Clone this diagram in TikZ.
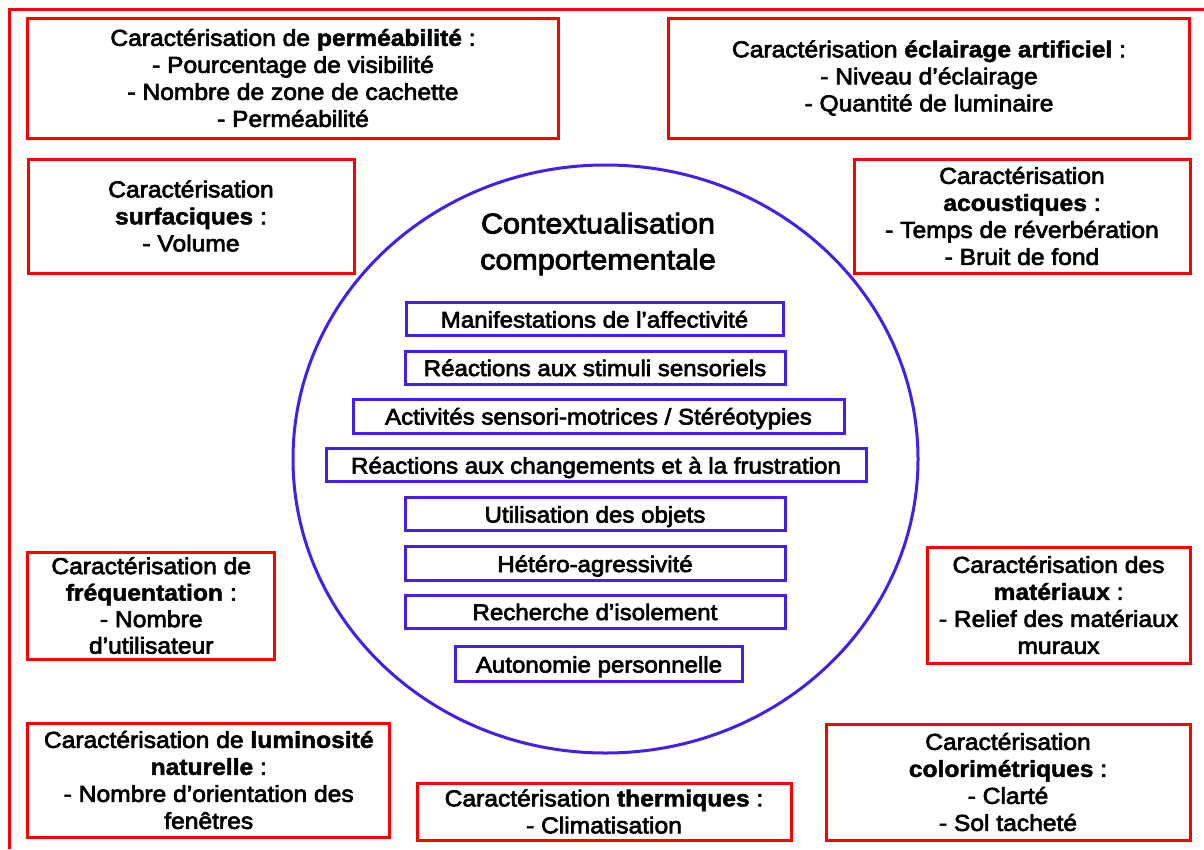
\documentclass[tikz,border=0pt]{standalone}
\usepackage{fontspec}
\setmainfont{Liberation Sans}[FakeStretch=1.07, UprightFeatures={FakeBold=3}, BoldFeatures={FakeBold=2}]
\usetikzlibrary{shapes.geometric}
\definecolor{boxred}{RGB}{255,0,0}
\definecolor{boxblue}{RGB}{70,30,235}
\tikzset{
  redbox/.style={draw=boxred, line width=3pt, inner sep=0pt, align=center,
    font=\fontsize{23}{27}\selectfont},
  bluebox/.style={draw=boxblue, line width=3pt, inner sep=0pt, align=center,
    minimum height=33pt, text height=19pt, text depth=2pt,
    font=\fontsize{22.5}{27}\selectfont},
  bigoval/.style={draw=boxblue, line width=3pt, ellipse, inner sep=0pt},
  titletext/.style={align=center, font=\fontsize{28.5}{36}\selectfont}
}
\begin{document}
\begin{tikzpicture}[x=1pt,y=-1pt]
\useasboundingbox (0,0) rectangle (1204,849);
% outer frame
\coordinate (ftr) at (1204,9);
\coordinate (ftl) at (9,9);
\coordinate (fbl) at (9,849);
\draw[boxred, line width=3pt] (ftr) -- (ftl) -- (fbl);

% central ellipse
\node[bigoval, minimum width=625pt, minimum height=588pt] (circ) at (605.5,459) {};
\node[titletext] (title) at (598,244) {Contextualisation\\comportementale};

% blue boxes
\node[bluebox, minimum width=377pt] (b1) at (594.5,319) {Manifestations de l’affectivité};
\node[bluebox, minimum width=380pt] (b2) at (595,367.5) {Réactions aux stimuli sensoriels};
\node[bluebox, minimum width=491pt, minimum height=34pt] (b3) at (598.5,416) {Activités sensori-motrices / Stéréotypies};
\node[bluebox, minimum width=540pt] (b4) at (596,465) {Réactions aux changements et à la frustration};
\node[bluebox, minimum width=380pt] (b5) at (595,514) {Utilisation des objets};
\node[bluebox, minimum width=380pt, minimum height=34pt] (b6) at (595,563.5) {Hétéro-agressivité};
\node[bluebox, minimum width=380pt] (b7) at (595,611.5) {Recherche d’isolement};
\node[bluebox, minimum width=287pt, minimum height=35pt] (b8) at (599,664) {Autonomie personnelle};

% red boxes
\node[redbox, minimum width=531pt, minimum height=120pt] (perm) at (293,78)
  {Caractérisation de \textbf{perméabilité} :\\- Pourcentage de visibilité\\- Nombre de zone de cachette\\- Perméabilité};
\node[redbox, minimum width=521pt, minimum height=120pt] (ecl) at (929,78)
  {Caractérisation \textbf{éclairage artificiel} :\\- Niveau d’éclairage\\- Quantité de luminaire};
\node[redbox, minimum width=326pt, minimum height=114pt] (surf) at (191,216)
  {Caractérisation\\\textbf{surfaciques} :\\- Volume};
\node[redbox, minimum width=336pt, minimum height=114pt] (acou) at (1022,216)
  {Caractérisation\\\textbf{acoustiques} :\\- Temps de réverbération\\- Bruit de fond};
\node[redbox, minimum width=247pt, minimum height=107pt, font=\fontsize{23}{26.5}\selectfont] (freq) at (151.25,605.5)
  {Caractérisation de\\\textbf{fréquentation} :\\- Nombre\\d’utilisateur};
\node[redbox, minimum width=362pt, minimum height=114pt] (lum) at (208.75,780)
  {Caractérisation de \textbf{luminosité}\\\textbf{naturelle} :\\- Nombre d’orientation des\\fenêtres};
\node[redbox, minimum width=374pt, minimum height=57pt] (therm) at (604,811.5)
  {Caractérisation \textbf{thermiques} :\\- Climatisation};
\node[redbox, minimum width=263pt, minimum height=116pt] (mat) at (1058.5,605)
  {Caractérisation des\\\textbf{matériaux} :\\- Relief des matériaux\\muraux};
\node[redbox, minimum width=364pt, minimum height=116pt] (colo) at (1008,782)
  {Caractérisation\\\textbf{colorimétriques} :\\- Clarté\\- Sol tacheté};
\end{tikzpicture}
\end{document}
